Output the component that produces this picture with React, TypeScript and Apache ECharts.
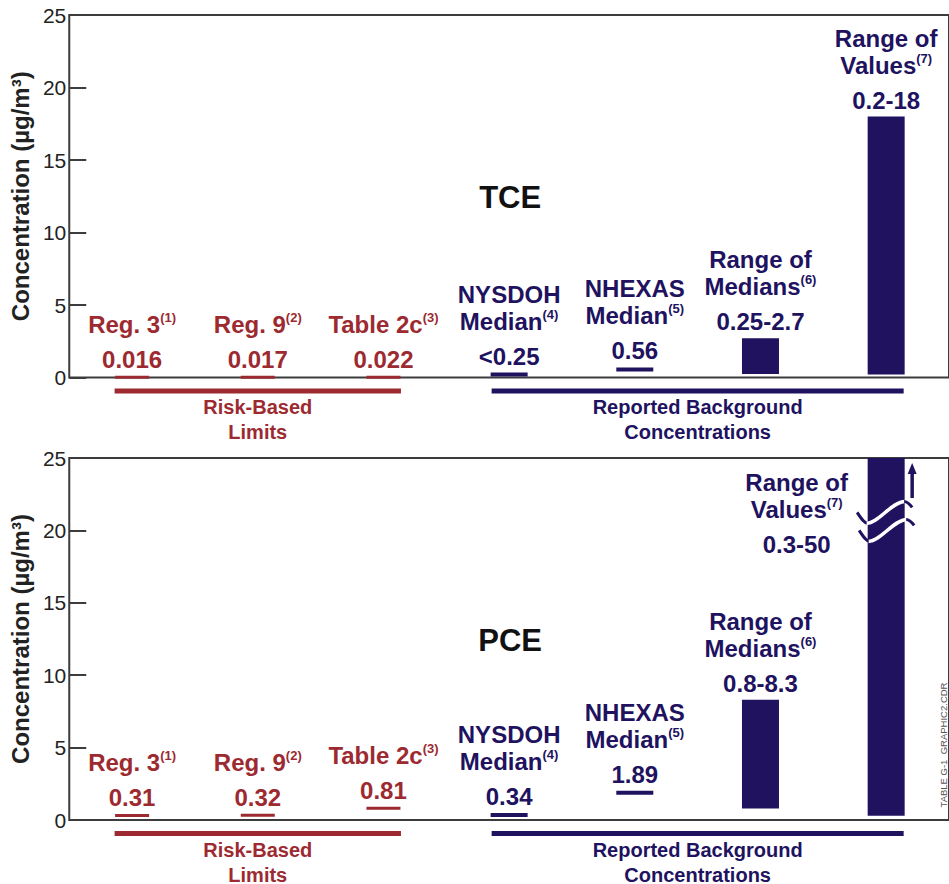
import React, { useEffect, useRef } from "react";
import * as echarts from "echarts";

// ---------- data ----------
const categories = ["Reg. 3", "Reg. 9", "Table 2c", "NYSDOH Median", "NHEXAS Median", "Range of Medians", "Range of Values"];
const nameLines = [["Reg. 3"], ["Reg. 9"], ["Table 2c"], ["NYSDOH", "Median"], ["NHEXAS", "Median"], ["Range of", "Medians"], ["Range of", "Values"]];
const footnotes = ["(1)", "(2)", "(3)", "(4)", "(5)", "(6)", "(7)"];
const groupOfCategory = ["risk", "risk", "risk", "bg", "bg", "bg", "bg"];
const groupLabels = { risk: "Risk-Based\nLimits", bg: "Reported Background\nConcentrations" };
const groupSpan = { risk: [0, 2], bg: [3, 6] };

const chemicals = ["TCE", "PCE"];

const tcePoint = [0.016, 0.017, 0.022, 0.2, 0.56, null, null];
const tceLow = [null, null, null, null, null, 0.25, 0.2];
const tceHigh = [null, null, null, null, null, 2.7, 18];
const tceText = ["0.016", "0.017", "0.022", "<0.25", "0.56", "0.25-2.7", "0.2-18"];

const pcePoint = [0.31, 0.32, 0.81, 0.34, 1.89, null, null];
const pceLow = [null, null, null, null, null, 0.8, 0.3];
const pceHigh = [null, null, null, null, null, 8.3, 50];
const pceText = ["0.31", "0.32", "0.81", "0.34", "1.89", "0.8-8.3", "0.3-50"];

const yMin = 0;
const yMax = 25;
const yInterval = 5;
const yName = "Concentration (µg/m³)";
const sideNote = "TABLE G-1  GRAPHIC2.CDR";

// ---------- style ----------
const RED = "#9c2a30";
const NAVY = "#20125f";
const AXIS = "#3c3c3c";
const FONT = "'Liberation Sans', Arial, Helvetica, sans-serif";

const colorOf = (i: number) => (groupOfCategory[i] === "risk" ? RED : NAVY);
const keyOf = (i: number) => (groupOfCategory[i] === "risk" ? "r" : "b");

function labelText(i: number, valueText: string) {
  const c = keyOf(i);
  const lines = nameLines[i];
  const parts = lines.map((ln, k) =>
    k === lines.length - 1 ? `{n${c}|${ln}}{s${c}|${footnotes[i]}}` : `{n${c}|${ln}}`
  );
  return parts.join("\n") + `\n{v${c}|${valueText}}`;
}

function richFor(color: string, c: string) {
  return {
    ["n" + c]: { fontFamily: FONT, fontSize: 24, fontWeight: "bold", color, lineHeight: 27, opacity: 1 },
    ["s" + c]: { fontFamily: FONT, fontSize: 13, fontWeight: "bold", color, lineHeight: 17, verticalAlign: "top", opacity: 1 },
    ["v" + c]: { fontFamily: FONT, fontSize: 24, fontWeight: "bold", color, lineHeight: 43, opacity: 1 },
  };
}
const rich = { ...richFor(RED, "r"), ...richFor(NAVY, "b") };

export default function App() {
  const ref = useRef<HTMLDivElement>(null);

  useEffect(() => {
    if (!ref.current) return;
    const chart = echarts.init(ref.current, undefined, { renderer: "svg" });

    const grids = [
      { left: 63, top: 15, width: 889, height: 362.5, show: true, borderColor: AXIS, borderWidth: 2, backgroundColor: "transparent" },
      { left: 63, top: 458, width: 889, height: 362, show: true, borderColor: AXIS, borderWidth: 2, backgroundColor: "transparent" },
    ];

    const xAxes = grids.map((_, g) => ({
      type: "category",
      gridIndex: g,
      data: categories,
      axisLine: { show: false },
      axisTick: { show: false },
      axisLabel: { show: false },
      splitLine: { show: false },
    }));

    const yAxes = grids.map((_, g) => ({
      type: "value",
      gridIndex: g,
      min: yMin,
      max: yMax,
      interval: yInterval,
      name: yName,
      nameLocation: "middle",
      nameGap: 31,
      nameTextStyle: { fontFamily: FONT, fontSize: 24, fontWeight: "bold", color: "#222" },
      axisLine: { show: false },
      axisTick: { show: true, inside: true, length: 17, lineStyle: { color: AXIS, width: 2 } },
      axisLabel: { margin: 3, fontFamily: FONT, fontSize: 21, color: "#222" },
      splitLine: { show: false },
    }));

    const sets = [
      { point: tcePoint, low: tceLow, high: tceHigh, text: tceText },
      { point: pcePoint, low: pceLow, high: pceHigh, text: pceText },
    ];

    const series: any[] = [];
    sets.forEach((s, g) => {
      series.push({
        type: "scatter",
        xAxisIndex: g,
        yAxisIndex: g,
        symbol: "rect",
        z: 5,
        itemStyle: { opacity: 1 },
        data: s.point
          .map((v, i) =>
            v == null
              ? null
              : {
                  value: [i, v],
                  symbolSize: groupOfCategory[i] === "risk" ? [34, 3] : [37, 4],
                  itemStyle: { color: colorOf(i), opacity: 1 },
                  label: { show: true, formatter: labelText(i, s.text[i]) },
                }
          )
          .filter((d) => d != null),
        label: { show: true, position: "top", distance: -5, rich },
      });
      series.push({
        type: "bar",
        xAxisIndex: g,
        yAxisIndex: g,
        stack: "range" + g,
        barWidth: 37,
        silent: true,
        itemStyle: { color: "transparent" },
        data: s.low.map((v) => (v == null ? "-" : v)),
      });
      series.push({
        type: "bar",
        xAxisIndex: g,
        yAxisIndex: g,
        stack: "range" + g,
        barWidth: 37,
        clip: true,
        itemStyle: { color: NAVY },
        label: { show: true, position: "top", distance: -5, rich },
        data: s.high.map((v, i) => {
          if (v == null || s.low[i] == null) return "-";
          const overflow = v > yMax;
          return {
            value: v - (s.low[i] as number),
            label: overflow
              ? { show: true, position: [-71, 11], align: "center", verticalAlign: "top", formatter: labelText(i, s.text[i]) }
              : { show: true, formatter: labelText(i, s.text[i]) },
          };
        }),
      });
    });

    chart.setOption({
      animation: false,
      backgroundColor: "#ffffff",
      grid: grids,
      xAxis: xAxes,
      yAxis: yAxes,
      series,
    });

    // ---------- annotations positioned via the axes ----------
    const px = (g: number, x: number, y: number) => chart.convertToPixel({ gridIndex: g } as any, [x, y]) as number[];
    const graphic: any[] = [];
    const half = 17.5;

    sets.forEach((s, g) => {
      const y0 = px(g, 0, 0)[1];
      (["risk", "bg"] as const).forEach((key) => {
        const [a, b] = groupSpan[key];
        const xa = px(g, a, 0)[0] - half;
        const xb = px(g, b, 0)[0] + half;
        const color = key === "risk" ? RED : NAVY;
        graphic.push({
          type: "rect",
          shape: { x: xa, y: y0 + 11, width: xb - xa, height: 5 },
          style: { fill: color },
        });
        graphic.push({
          type: "text",
          x: (xa + xb) / 2,
          y: y0 + 42,
          style: {
            text: groupLabels[key],
            fill: color,
            font: `bold 20px ${FONT}`,
            textAlign: "center",
            textVerticalAlign: "middle",
            lineHeight: 25,
          },
        });
      });
      const tp = px(g, 3, (yMin + yMax) / 2);
      graphic.push({
        type: "text",
        x: tp[0] + 1,
        y: tp[1] + 1,
        style: { text: chemicals[g], fill: "#111", font: `bold 31px ${FONT}`, textAlign: "center", textVerticalAlign: "middle" },
      });

      // break + arrow for bars exceeding the axis max
      s.high.forEach((v, i) => {
        if (v == null || v <= yMax) return;
        const [cx, yb] = px(g, i, 20);
        const top = px(g, i, yMax)[1];
        [0, 1].forEach((k) => {
          const dx = k * 2;
          const dy = yb - 8 + k * 18;
          graphic.push({
            type: "bezierCurve",
            shape: { x1: cx - 29 + dx, y1: dy - 10, cpx1: cx - 25 + dx, cpy1: dy - 4, cpx2: cx - 22 + dx, cpy2: dy + 1, x2: cx - 18.5 + dx, y2: dy + 1 },
            style: { stroke: NAVY, lineWidth: 3, fill: null },
            z: 10,
          });
          graphic.push({
            type: "bezierCurve",
            shape: { x1: cx - 19.5 + dx, y1: dy + 1, cpx1: cx - 8 + dx, cpy1: dy + 1, cpx2: cx + 6 + dx, cpy2: dy - 21, x2: cx + 18.5 + dx, y2: dy - 21 },
            style: { stroke: "#ffffff", lineWidth: 3.5, fill: null },
            z: 10,
          });
          graphic.push({
            type: "bezierCurve",
            shape: { x1: cx + 18 + dx, y1: dy - 21, cpx1: cx + 21 + dx, cpy1: dy - 21, cpx2: cx + 23 + dx, cpy2: dy - 19, x2: cx + 26 + dx, y2: dy - 15 },
            style: { stroke: NAVY, lineWidth: 3, fill: null },
            z: 10,
          });
        });
        const ax = cx + 26;
        const tip = top + 5;
        graphic.push({
          type: "polygon",
          shape: { points: [[ax - 4.5, tip + 11], [ax, tip], [ax + 4.5, tip + 11]] },
          style: { fill: NAVY },
          z: 10,
        });
        graphic.push({
          type: "rect",
          shape: { x: ax - 1.75, y: tip + 9, width: 3.5, height: 26 },
          style: { fill: NAVY },
          z: 10,
        });
      });
    });

    graphic.push({
      type: "text",
      x: 943,
      y: 745,
      rotation: Math.PI / 2,
      style: { text: sideNote, fill: "#555", font: `9.5px ${FONT}`, textAlign: "center", textVerticalAlign: "middle" },
    });

    chart.setOption({ graphic });

    return () => chart.dispose();
  }, []);

  return <div ref={ref} style={{ position: "absolute", left: 0, top: 0, width: 949, height: 884 }} />;
}
